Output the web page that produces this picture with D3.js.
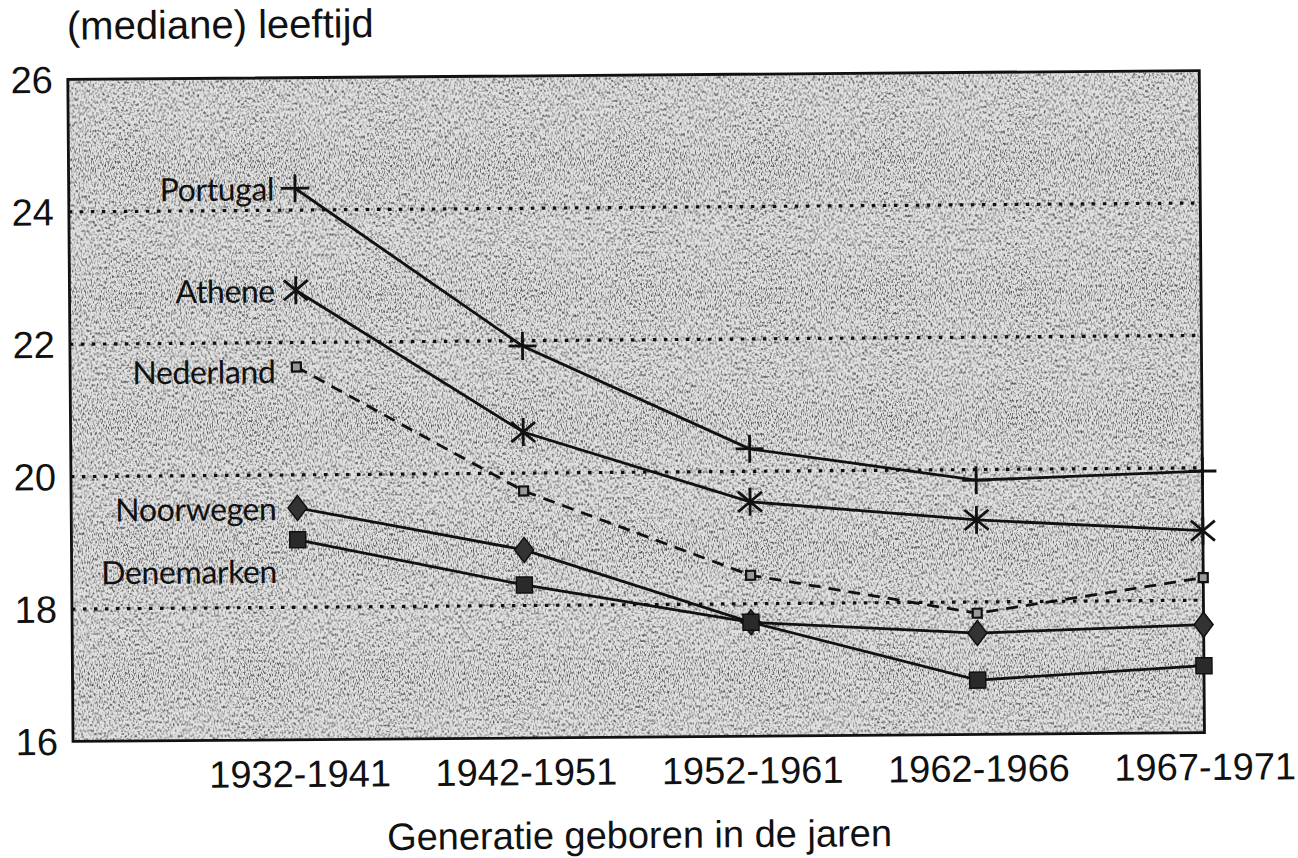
<!DOCTYPE html>
<html>
<head>
<meta charset="utf-8">
<script src="https://cdn.jsdelivr.net/npm/d3@7"></script>
<style>
  body { margin:0; background:#fff; }
  svg { display:block; }
</style>
</head>
<body>
<script>

// generations on the x axis
var categories = ['1932-1941','1942-1951','1952-1961','1962-1966','1967-1971'];

// median age per country
var portugal   = [24.33, 21.92, 20.34, 19.84, 19.95];
var athene     = [22.79, 20.62, 19.54, 19.24, 19.05];
var nederland  = [21.63, 19.73, 18.43, 17.83, 18.34];
var noorwegen  = [19.50, 18.84, 17.72, 17.53, 17.63];
var denemarken = [19.02, 18.31, 17.72, 16.82, 17.01];

var seriesNames = ['Portugal','Athene','Nederland','Noorwegen','Denemarken'];
var yTicks = [16,18,20,22,24,26];
var gridValues = [18,20,22,24];

var series = [
  {name: seriesNames[0], values: portugal,   marker: 'plus'},
  {name: seriesNames[1], values: athene,     marker: 'star'},
  {name: seriesNames[2], values: nederland,  marker: 'smallsquare', dashed: true},
  {name: seriesNames[3], values: noorwegen,  marker: 'diamond'},
  {name: seriesNames[4], values: denemarken, marker: 'square'}
];

// extra vertical shift for the series labels
var labelShift = {Portugal:0, Athene:0, Nederland:4, Noorwegen:0, Denemarken:31};

var svgwidth = 1298, svgheight = 858;

var margins = {top:75, bottom:121, left:70.5, right:96};

var xscale = d3.scaleLinear()
             .domain([-1, categories.length-1])
             .range([margins.left, svgwidth - margins.right]);

var yscale = d3.scaleLinear()
             .domain([16, 26])
             .range([svgheight - margins.bottom, margins.top]);

var svg = d3.select('body').append('svg')
            .attr('width', svgwidth)
            .attr('height', svgheight);

var defs = svg.append('defs');
var grain = defs.append('filter')
                .attr('id','grain')
                .attr('x',0).attr('y',0).attr('width','100%').attr('height','100%');
grain.append('feTurbulence')
     .attr('type','fractalNoise')
     .attr('baseFrequency','0.8 0.35')
     .attr('numOctaves',2)
     .attr('seed',7);
grain.append('feColorMatrix')
     .attr('type','matrix')
     .attr('values','0 0 0 0 0  0 0 0 0 0  0 0 0 0 0  -3.6 0 0 0 1.95');

// the scan is a little bit tilted
var g = svg.append('g').attr('transform','rotate(-0.45,640,420)');

var x0 = xscale(-1), x1 = xscale(categories.length-1);
var y0 = yscale(26), y1 = yscale(16);

// stippled background
g.append('rect')
 .attr('x',x0).attr('y',y0)
 .attr('width',x1-x0).attr('height',y1-y0)
 .attr('fill','#e0e0e0');
g.append('rect')
 .attr('x',x0).attr('y',y0)
 .attr('width',x1-x0).attr('height',y1-y0)
 .attr('fill','#000')
 .attr('filter','url(#grain)')
 .attr('opacity',0.6);

// dotted grid lines
g.selectAll('.grid')
 .data(gridValues)
 .enter()
 .append('line')
 .attr('x1',x0).attr('x2',x1)
 .attr('y1',function(d){return yscale(d);})
 .attr('y2',function(d){return yscale(d);})
 .attr('stroke','#111')
 .attr('stroke-width',3.2)
 .attr('stroke-dasharray','3.5,7.5');

// frame
g.append('rect')
 .attr('x',x0).attr('y',y0)
 .attr('width',x1-x0).attr('height',y1-y0)
 .attr('fill','none')
 .attr('stroke','#111')
 .attr('stroke-width',2.8);

// axes
var yaxis = d3.axisLeft(yscale)
              .tickValues(yTicks)
              .tickSize(0)
              .tickPadding(15)
              .tickFormat(d3.format('d'));

var yg = g.append('g')
          .attr('transform','translate('+x0+',0)')
          .call(yaxis);
yg.select('.domain').remove();
yg.selectAll('text')
  .attr('font-family','"Liberation Sans", Arial, sans-serif')
  .attr('font-size',38)
  .attr('fill','#111')
  .attr('dy','0.34em');

var xaxis = d3.axisBottom(xscale)
              .tickValues(d3.range(categories.length))
              .tickSize(0)
              .tickPadding(20)
              .tickFormat(function(d){return categories[d];});

var xg = g.append('g')
          .attr('transform','translate(0,'+y1+')')
          .call(xaxis);
xg.select('.domain').remove();
xg.selectAll('text')
  .attr('font-family','"Liberation Sans", Arial, sans-serif')
  .attr('font-size',38)
  .attr('fill','#111')
  .attr('dy','0.72em');

g.append('text')
 .attr('x',(x0+x1)/2)
 .attr('y',848)
 .attr('text-anchor','middle')
 .attr('font-family','"Liberation Sans", Arial, sans-serif')
 .attr('font-size',38)
 .attr('fill','#111')
 .text('Generatie geboren in de jaren');

g.append('text')
 .attr('x',70)
 .attr('y',35)
 .attr('font-family','"Liberation Sans", Arial, sans-serif')
 .attr('font-size',40)
 .attr('fill','#111')
 .text('(mediane) leeftijd');

// lines
var line = d3.line()
             .x(function(d,i){return xscale(i);})
             .y(function(d){return yscale(d);});

g.selectAll('.serie')
 .data(series)
 .enter()
 .append('path')
 .attr('d',function(d){return line(d.values);})
 .attr('fill','none')
 .attr('stroke','#111')
 .attr('stroke-width',2.8)
 .attr('stroke-dasharray',function(d){return d.dashed ? '12,8' : null;});

// markers
var drawMarker = function(sel, type){
  if(type=='plus'){
    sel.append('path').attr('d','M-14,0H14M0,-14V14')
       .attr('stroke','#111').attr('stroke-width',2.8);
  }
  else if(type=='star'){
    sel.append('path').attr('d','M0,-14V14M-12,-10L12,10M-12,10L12,-10')
       .attr('stroke','#111').attr('stroke-width',2.8);
  }
  else if(type=='smallsquare'){
    sel.append('rect').attr('x',-4.5).attr('y',-4.5).attr('width',9).attr('height',9)
       .attr('fill','#999').attr('stroke','#111').attr('stroke-width',2.2);
  }
  else if(type=='diamond'){
    sel.append('path').attr('d','M0,-12.5L9.5,0L0,12.5L-9.5,0Z')
       .attr('fill','#333').attr('stroke','#111').attr('stroke-width',1.5);
  }
  else if(type=='square'){
    sel.append('rect').attr('x',-8).attr('y',-8).attr('width',16).attr('height',16)
       .attr('fill','#2a2a2a').attr('stroke','#111').attr('stroke-width',1.5);
  }
};

series.forEach(function(s){
  var pts = g.selectAll('.m'+s.marker)
             .data(s.values)
             .enter()
             .append('g')
             .attr('transform',function(d,i){return 'translate('+xscale(i)+','+yscale(d)+')';});
  drawMarker(pts, s.marker);
});

// series labels next to the first point
g.selectAll('.label')
 .data(series)
 .enter()
 .append('text')
 .attr('x',xscale(0)-21)
 .attr('y',function(d){return yscale(d.values[0]) + 12 + labelShift[d.name];})
 .attr('text-anchor','end')
 .attr('font-family','Lato, "Noto Sans", sans-serif')
 .attr('font-size',32)
 .attr('letter-spacing',-0.4)
 .attr('fill','#111')
 .text(function(d){return d.name;});

</script>
</body>
</html>
